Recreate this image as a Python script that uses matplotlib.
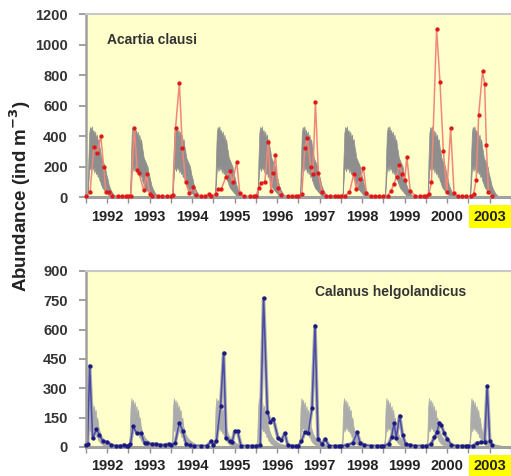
import numpy as np
import matplotlib
matplotlib.use('Agg')
import matplotlib.pyplot as plt

plt.rcParams['font.family'] = ['Liberation Sans', 'DejaVu Sans']

# year slots on the x axis (one unit per sampled year)
years = ['1992', '1993', '1994', '1995', '1996', '1997', '1998', '1999', '2000', '2003']

# climatological band, one year (fraction of year, upper, lower)
clim_frac = [0.00, 0.04, 0.06, 0.08, 0.10, 0.12, 0.14, 0.16, 0.18, 0.20, 0.22, 0.24, 0.26, 0.28,
             0.30, 0.32, 0.34, 0.36, 0.39, 0.42, 0.45, 0.48, 0.51, 0.54, 0.58, 0.62, 0.66, 0.70, 1.00]
acartia_upper = [0, 30, 250, 420, 460, 440, 465, 420, 440, 400, 430, 380, 410, 360,
                 380, 330, 300, 260, 240, 220, 200, 150, 120, 80, 50, 30, 15, 5, 0]
acartia_lower = [0, 5, 100, 180, 200, 170, 210, 180, 200, 160, 190, 150, 170, 130,
                 150, 110, 100, 80, 60, 50, 40, 30, 20, 10, 5, 2, 0, 0, 0]

calanus_frac = [0.00, 0.03, 0.05, 0.07, 0.09, 0.11, 0.13, 0.15, 0.17, 0.19, 0.21, 0.23, 0.25,
                0.27, 0.29, 0.31, 0.34, 0.37, 0.40, 0.44, 0.48, 0.53, 0.60, 0.70, 0.80, 1.00]
calanus_upper = [0, 40, 200, 250, 220, 240, 200, 230, 180, 210, 170, 190, 140,
                 150, 110, 90, 70, 55, 45, 35, 30, 20, 15, 10, 5, 0]
calanus_lower = [0, 5, 60, 100, 80, 110, 90, 100, 80, 90, 70, 75, 50,
                 55, 35, 30, 20, 15, 10, 8, 5, 3, 2, 0, 0, 0]

# Acartia clausi samples (x = year slot + fraction of year)
acartia_t = [0.0, 0.1, 0.19, 0.27, 0.35, 0.42, 0.47, 0.55, 0.62, 0.75, 0.85, 0.95,
             1.0, 1.06, 1.14, 1.21, 1.25, 1.36, 1.43, 1.5, 1.56, 1.7, 1.8, 1.9,
             2.0, 2.04, 2.11, 2.2, 2.27, 2.35, 2.43, 2.52, 2.6, 2.7, 2.8, 2.9, 2.95,
             3.05, 3.1, 3.19, 3.29, 3.38, 3.45, 3.55, 3.62, 3.72, 3.85, 3.95,
             4.0, 4.07, 4.13, 4.21, 4.29, 4.35, 4.41, 4.46, 4.52, 4.6, 4.75, 4.85, 4.95,
             5.0, 5.08, 5.15, 5.21, 5.29, 5.34, 5.4, 5.47, 5.55, 5.65, 5.75, 5.85, 5.92,
             6.0, 6.1, 6.2, 6.3, 6.36, 6.45, 6.53, 6.6, 6.7, 6.8, 6.9,
             7.0, 7.1, 7.18, 7.24, 7.31, 7.37, 7.44, 7.5, 7.55, 7.63, 7.75, 7.85, 7.95,
             8.0, 8.07, 8.13, 8.25, 8.33, 8.41, 8.49, 8.58, 8.66, 8.75, 8.85, 8.95,
             9.05, 9.12, 9.18, 9.24, 9.33, 9.38, 9.42, 9.47, 9.55]
acartia_v = [5, 35, 330, 290, 400, 200, 30, 30, 8, 5, 5, 5,
             5, 10, 455, 175, 155, 45, 150, 20, 10, 5, 5, 8,
             5, 15, 455, 750, 320, 100, 25, 65, 15, 5, 5, 20, 10,
             20, 50, 55, 130, 170, 100, 230, 25, 5, 5, 10,
             10, 60, 95, 100, 360, 40, 160, 275, 60, 12, 5, 5, 5,
             5, 20, 320, 390, 200, 150, 625, 155, 35, 10, 5, 10, 5,
             5, 10, 30, 150, 50, 120, 190, 25, 5, 5, 5,
             5, 10, 40, 85, 130, 210, 150, 110, 265, 40, 8, 5, 10,
             5, 20, 100, 1105, 755, 300, 30, 455, 25, 5, 5, 5,
             5, 20, 110, 540, 825, 745, 340, 30, 5]

# Calanus helgolandicus samples
calanus_t = [0.0, 0.04, 0.09, 0.16, 0.25, 0.32, 0.4, 0.5, 0.6, 0.7, 0.8, 0.9, 0.96,
             1.0, 1.05, 1.11, 1.2, 1.3, 1.38, 1.45, 1.55, 1.65, 1.75, 1.85, 1.95,
             2.0, 2.1, 2.2, 2.28, 2.36, 2.45, 2.55, 2.7, 2.85, 2.95,
             3.0, 3.07, 3.17, 3.24, 3.3, 3.38, 3.44, 3.5, 3.57, 3.65, 3.8, 3.9,
             4.0, 4.1, 4.18, 4.27, 4.33, 4.41, 4.52, 4.6, 4.68, 4.75, 4.85, 4.95,
             5.0, 5.07, 5.15, 5.23, 5.32, 5.39, 5.46, 5.55, 5.63, 5.72, 5.85, 5.95,
             6.0, 6.15, 6.28, 6.38, 6.45, 6.55, 6.7, 6.85, 6.95,
             7.0, 7.12, 7.19, 7.25, 7.3, 7.38, 7.45, 7.52, 7.62, 7.75, 7.9,
             8.0, 8.12, 8.2, 8.26, 8.31, 8.36, 8.43, 8.5, 8.6, 8.72, 8.85, 8.95,
             9.0, 9.1, 9.2, 9.3, 9.38, 9.44, 9.5, 9.56]
calanus_v = [10, 15, 415, 45, 90, 60, 30, 25, 10, 5, 5, 10, 5,
             5, 15, 105, 70, 70, 20, 20, 15, 15, 10, 10, 15,
             10, 20, 125, 80, 15, 10, 5, 5, 5, 30,
             10, 30, 210, 480, 45, 30, 25, 80, 80, 5, 5, 5,
             5, 10, 760, 180, 130, 145, 45, 35, 70, 8, 5, 5,
             5, 30, 75, 70, 200, 620, 40, 15, 40, 5, 5, 5,
             5, 10, 20, 75, 20, 10, 5, 5, 5,
             5, 15, 50, 125, 45, 160, 60, 15, 10, 5, 5,
             5, 15, 50, 75, 125, 110, 70, 40, 10, 5, 5, 5,
             5, 5, 20, 25, 25, 310, 30, 8]


def tile_band(frac, upper, lower):
    x, up, lo = [], [], []
    for k in range(len(years)):
        x += [k + f for f in frac]
        up += upper
        lo += lower
    return np.array(x), np.array(up), np.array(lo)


fig = plt.figure(figsize=(5.11, 4.76), dpi=100, facecolor='white')
ax1 = fig.add_axes([0.168, 0.586, 0.832, 0.384])
ax2 = fig.add_axes([0.168, 0.061, 0.832, 0.370])

panels = [
    (ax1, clim_frac, acartia_upper, acartia_lower, acartia_t, acartia_v,
     '#8e8e8e', '#f08878', '#e01818', 1200, 200, 'Acartia clausi', (0.049, 0.858)),
    (ax2, calanus_frac, calanus_upper, calanus_lower, calanus_t, calanus_v,
     '#ababab', '#4a4aa8', '#1a1a80', 900, 150, 'Calanus helgolandicus', (0.539, 0.88)),
]

for ax, fr, up, lo, t, v, gcol, lcol, mcol, ymax, ystep, title, tpos in panels:
    ax.set_facecolor('#ffffcc')
    bx, bu, bl = tile_band(fr, up, lo)
    ax.fill_between(bx, bl, bu, color=gcol, lw=0.5, edgecolor=gcol, zorder=1)
    if ax is ax2:
        ax.plot(t, v, color=gcol, lw=2.6, zorder=1.5, clip_on=False)
    ax.plot(t, v, color=lcol, lw=1.1, zorder=2, clip_on=False)
    ax.plot(t, v, ls='none', marker='o', ms=2.1, color=mcol, zorder=3, clip_on=False)

    ax.set_xlim(0, 10)
    ax.set_ylim(0, ymax)
    ax.set_yticks(np.arange(0, ymax + 1, ystep))
    ax.set_xticks(np.arange(len(years)) + 0.5)
    ax.set_xticklabels(years)
    ax.set_xticks(np.arange(0, 10.01, 1.0), minor=True)
    ax.tick_params(axis='y', direction='out', length=5, width=1.2, color='#909090',
                   pad=8, labelsize=10.5, labelcolor='#333333')
    ax.tick_params(axis='x', which='both', direction='out', length=4, width=1,
                   color='#909090', pad=5, labelsize=10.5, labelcolor='#222222')
    for lab in ax.get_yticklabels() + ax.get_xticklabels():
        lab.set_fontweight('bold')
    last = ax.get_xticklabels()[-1]
    last.set_bbox(dict(facecolor='#ffff00', edgecolor='none', pad=3.5))

    ax.spines['right'].set_visible(False)
    ax.spines['top'].set_color('#c8c8c8')
    ax.spines['top'].set_linewidth(1.5)
    ax.spines['left'].set_color('#a0a0a0')
    ax.spines['left'].set_linewidth(1.8)
    ax.spines['bottom'].set_color('#a0a0a0')
    ax.spines['bottom'].set_linewidth(2.2)

    ax.text(tpos[0], tpos[1], title, transform=ax.transAxes, fontsize=10,
            fontweight='bold', color='#333333', va='center', ha='left')

fig.text(0.04, 0.588, 'Abundance (ind m$^{\\mathbf{-3}}$)', rotation=90, fontsize=13.5,
         fontweight='bold', color='#222222', ha='center', va='center')

fig.savefig('out.png', dpi=100, facecolor='white')
